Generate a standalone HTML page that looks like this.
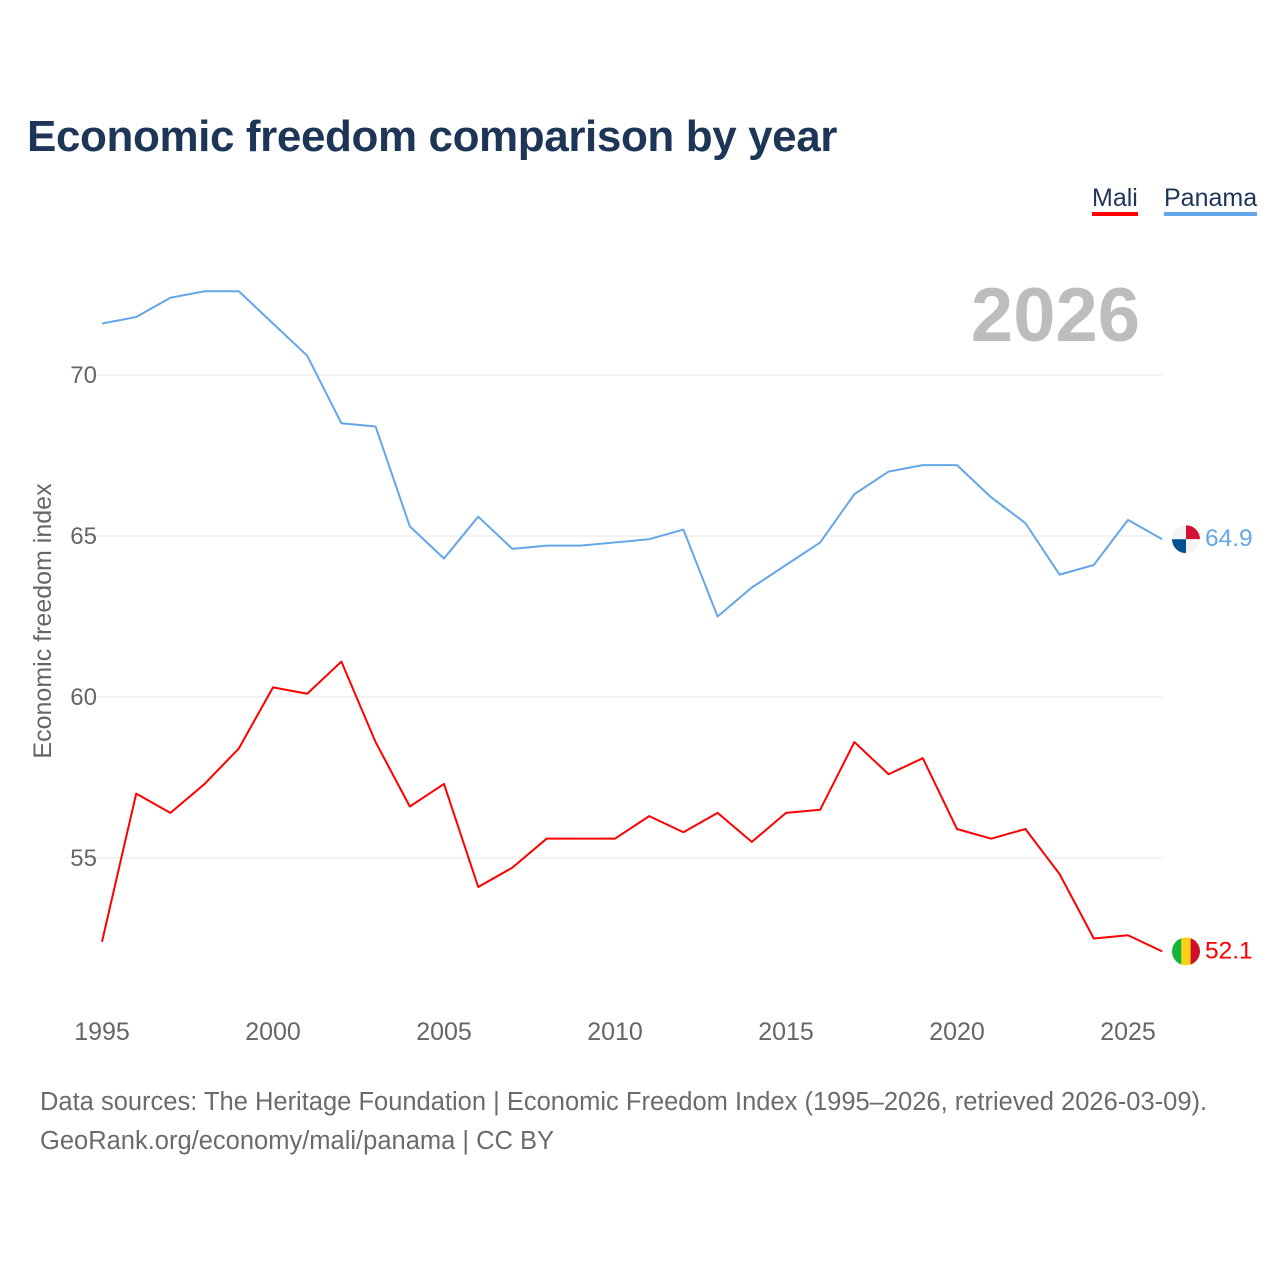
<!DOCTYPE html>
<html><head><meta charset="utf-8"><style>
body{margin:0;width:1280px;height:1280px;background:#fff;font-family:"Liberation Sans",sans-serif;position:relative;overflow:hidden}
.t{position:absolute;white-space:nowrap}
</style></head><body>
<div class="t" style="left:27px;top:112px;font-size:44px;font-weight:bold;color:#1d3557;letter-spacing:-0.4px">Economic freedom comparison by year</div>
<div class="t" style="left:1092px;top:184px;font-size:25px;color:#1d3557;border-bottom:4px solid #f00;line-height:28px">Mali</div>
<div class="t" style="left:1164px;top:184px;font-size:25px;color:#1d3557;border-bottom:4px solid #64a6e8;line-height:28px">Panama</div>
<svg id="c" width="1280" height="1280" style="position:absolute;left:0;top:0"></svg>
<div class="t" style="left:40px;top:1083px;font-size:25.5px;color:#6b6b6b;line-height:39px">Data sources: The Heritage Foundation | Economic Freedom Index (1995–2026, retrieved 2026-03-09).<br>GeoRank.org/economy/mali/panama | CC BY</div>
<script>
const years=[1995,1996,1997,1998,1999,2000,2001,2002,2003,2004,2005,2006,2007,2008,2009,2010,2011,2012,2013,2014,2015,2016,2017,2018,2019,2020,2021,2022,2023,2024,2025,2026];
const panama=[71.6,71.8,72.4,72.6,72.6,71.6,70.6,68.5,68.4,65.3,64.3,65.6,64.6,64.7,64.7,64.8,64.9,65.2,62.5,63.4,64.1,64.8,66.3,67.0,67.2,67.2,66.2,65.4,63.8,64.1,65.5,64.9];
const mali=[52.4,57.0,56.4,57.3,58.4,60.3,60.1,61.1,58.6,56.6,57.3,54.1,54.7,55.6,55.6,55.6,56.3,55.8,56.4,55.5,56.4,56.5,58.6,57.6,58.1,55.9,55.6,55.9,54.5,52.5,52.6,52.1];
const yTicks=[55,60,65,70];
const xTicks=[1995,2000,2005,2010,2015,2020,2025];
const X=v=>102+(v-1995)*34.2;
const Y=v=>375+(70-v)*32.2;
const svg=document.getElementById('c');const NS='http://www.w3.org/2000/svg';
function mk(tag,attrs,text){const e=document.createElementNS(NS,tag);for(const k in attrs)e.setAttribute(k,attrs[k]);if(text!=null)e.textContent=text;svg.appendChild(e);return e;}
yTicks.forEach(v=>{
const g=mk('line',{x1:90,x2:1162,y1:Y(v),y2:Y(v),stroke:'#e6e6e6','stroke-width':1});


const t=mk('text',{x:97,y:Y(v)+8,'text-anchor':'end','font-size':24,fill:'#666','font-family':'Liberation Sans, sans-serif'},v);


});
xTicks.forEach(v=>{
const t=mk('text',{x:X(v),y:1040,'text-anchor':'middle','font-size':25,fill:'#666','font-family':'Liberation Sans, sans-serif'},v);


});
const yt=mk('text',{x:0,y:0,transform:'translate(51,621) rotate(-90)','text-anchor':'middle','font-size':25,fill:'#666','font-family':'Liberation Sans, sans-serif'},'Economic freedom index');


const yr=mk('text',{x:1140,y:341,'text-anchor':'end','font-size':76,'font-weight':'bold',fill:'#bdbdbd','font-family':'Liberation Sans, sans-serif'},'2026');


function line(data,color,name){
const p=mk('polyline',{points:data.map((v,i)=>X(years[i])+','+Y(v)).join(' '),fill:'none',stroke:color,'stroke-width':2,'stroke-linejoin':'round'});


}
line(panama,'#64a6e8','panama-line');
line(mali,'#f00','mali-line');
const lastP=panama[panama.length-1],lastM=mali[mali.length-1];
const defs=mk('defs',{});
const cp=document.createElementNS(NS,'clipPath');cp.setAttribute('id','fp');defs.appendChild(cp);
const cc=document.createElementNS(NS,'circle');cc.setAttribute('cx',1186);cc.setAttribute('cy',Y(lastP));cc.setAttribute('r',14);cp.appendChild(cc);
const cm=document.createElementNS(NS,'clipPath');cm.setAttribute('id','fm');defs.appendChild(cm);
const cc2=document.createElementNS(NS,'circle');cc2.setAttribute('cx',1186);cc2.setAttribute('cy',Y(lastM));cc2.setAttribute('r',14);cm.appendChild(cc2);
const gp=mk('g',{'clip-path':'url(#fp)'});


[['#f4f4f4',1172,Y(lastP)-14],['#d21034',1186,Y(lastP)-14],['#005293',1172,Y(lastP)],['#f4f4f4',1186,Y(lastP)]].forEach(a=>{const r=document.createElementNS(NS,'rect');r.setAttribute('x',a[1]);r.setAttribute('y',a[2]);r.setAttribute('width',14);r.setAttribute('height',14);r.setAttribute('fill',a[0]);gp.appendChild(r);});
const gm=mk('g',{'clip-path':'url(#fm)'});


[['#14b53a',1172],['#fcd116',1181.3],['#ce1126',1190.6]].forEach(a=>{const r=document.createElementNS(NS,'rect');r.setAttribute('x',a[1]);r.setAttribute('y',Y(lastM)-14);r.setAttribute('width',9.4);r.setAttribute('height',28);r.setAttribute('fill',a[0]);gm.appendChild(r);});
const lp=mk('text',{x:1205,y:Y(lastP)+7,'font-size':24.5,fill:'#64a6e8','font-family':'Liberation Sans, sans-serif'},lastP.toFixed(1));


const lm=mk('text',{x:1205,y:Y(lastM)+7,'font-size':24.5,fill:'#f00','font-family':'Liberation Sans, sans-serif'},lastM.toFixed(1));


</script>
</body></html>
